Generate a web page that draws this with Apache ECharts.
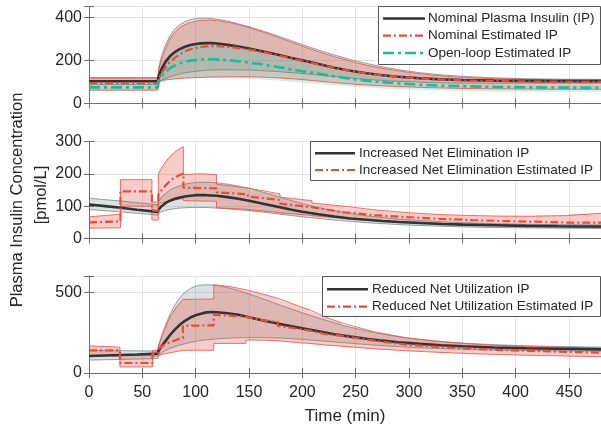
<!DOCTYPE html>
<html><head><meta charset="utf-8">
<script src="https://cdn.jsdelivr.net/npm/echarts@6/dist/echarts.min.js"></script>
<style>html,body{margin:0;padding:0;background:#fff}#c{width:601px;height:428px}</style>
</head><body><div id="c"></div>
<script>
// ---------- shared x ticks ----------
const xTicks = [0,50,100,150,200,250,300,350,400,450];

// ---------- TOP panel (nominal) ----------
const T1 = [0,30,64.5,65.5,68,72,76,80,85,90,95,100,105,110,115,120,130,140,150,160,170,180,190,200,215,230,245,260,275,290,310,330,350,380,410,440,480];
const nomIP      = [103,103,103,130,160,195,220,237,252,263,271,276,279,280,280,278,272,264,255,245,234,223,211,200,183,166,152,140,131,124,117,112,109,106,105,104,104];
const nomIPHi    = [120,120,120,170,220,275,315,343,365,380,389,394,396,396,394,391,382,370,356,341,325,308,291,273,248,225,204,186,170,157,143,133,126,119,115,113,112];
const nomIPLo    = [88,88,88,100,108,117,124,130,137,142,146,149,152,154,155,156,156,156,155,153,150,147,143,139,132,125,118,112,107,103,99,96,95,94,94,94,94];
const nomEst     = [95,95,95,115,140,170,193,210,228,242,251,258,262,265,266,266,263,257,250,241,231,220,209,198,181,165,151,140,131,124,116,111,107,104,102,101,100];
const nomEstHi   = [118,118,118,160,205,258,300,328,352,366,376,382,386,387,387,385,377,366,352,337,320,302,284,266,240,217,196,178,163,151,138,128,121,115,112,110,109];
const nomEstLo   = [62,62,62,100,106,110,112,114,116,118,119,120,121,122,123,123,124,124,124,123,121,118,115,111,104,97,91,86,82,79,75,72,70,68,67,66,66];
const olEst      = [75,75,75,105,125,148,164,175,186,194,199,202,204,205,205,204,201,196,190,183,175,167,158,150,138,126,115,106,99,93,87,83,80,77,75,74,73];
const olEstHi    = [90,90,90,140,170,205,228,243,256,264,268,270,271,271,270,268,262,254,245,235,224,213,201,190,173,157,143,131,121,113,105,99,95,91,89,88,87];
const olEstLo    = [60,60,60,90,98,104,108,111,114,116,117,118,119,119,119,119,118,117,115,112,109,105,101,97,91,85,79,74,70,66,62,60,58,56,55,54,54];

// ---------- MIDDLE panel (increased net elimination) ----------
const T2 = [0,15,30,45,60,64.5,65.5,68,72,76,80,85,90,95,100,105,110,115,120,130,140,150,160,170,180,190,200,215,230,245,260,275,290,310,330,350,380,410,440,480];
const elimIP     = [105,100,95,89,84,82,90,100,110,117,122,127,130,132,134,134,134,133,132,128,123,117,110,103,96,89,83,75,68,62,58,54,51,48,45,43,41,39,38,37];
const elimIPHi   = [125,120,116,111,106,104,115,128,140,150,157,163,168,171,173,174,174,173,172,168,162,155,146,137,127,117,108,96,86,77,70,65,60,56,52,49,46,44,43,42];
const elimIPLo   = [90,86,82,78,74,72,78,83,87,90,92,94,95,96,96,96,96,95,94,92,89,86,83,79,75,71,67,62,57,53,49,46,43,40,38,36,34,33,32,31];
const RT2 = [0,29.5,29.5,59,59,65,65,68,72,76,80,84,88.5,88.5,104,119.5,119.5,149,149,179,179,209,209,239,239,269,269,299,299,329,329,359,359,389,389,419,419,449,449,480];
const elimEst    = [50,53,146,146,88,85,135,150,165,178,188,195,201,157,156,155,143,137,130,119,108,97,92,81,80,72,72,66,66,61,60,57,57,54,55,52,52,49,48,49];
const elimEstHi  = [67,75,182,182,113,113,200,218,238,254,266,276,284,198,200,198,168,156,150,138,128,117,110,100,96,88,87,80,79,74,74,71,71,69,70,69,72,71,75,78];
const elimEstLo  = [32,33,100,100,57,57,108,110,113,116,119,121,124,117,116,115,95,90,85,80,76,71,67,62,60,55,55,51,50,47,46,43,43,41,41,39,38,36,35,33];

// ---------- BOTTOM panel (reduced net utilization) ----------
const T3 = T2;
const utilIP     = [105,108,111,114,118,120,140,165,200,235,265,298,323,343,357,367,375,377,376,370,360,345,330,315,302,289,276,258,240,225,212,200,190,180,172,165,158,153,150,146];
const utilIPHi   = [140,139,138,137,136,135,175,230,300,365,415,465,500,523,537,544,546,545,541,528,510,489,466,442,418,395,372,340,310,283,260,241,225,208,195,185,175,168,164,160];
const utilIPLo   = [80,82,84,86,88,90,110,125,140,152,162,172,181,189,196,201,205,209,211,215,218,219,219,218,216,212,208,200,192,184,176,169,163,156,151,147,142,139,137,135];
const RT3 = [0,29,29,59.5,59.5,65,65,68,72,76,80,84,88,88,117,117,132,147,147,162,177,177,192,207,207,222,237,237,267,267,297,297,327,327,357,357,387,387,417,417,447,447,480];
const utilEst    = [140,140,62,62,121,121,150,165,180,190,200,210,215,292,295,360,355,347,338,328,315,292,278,262,250,240,230,220,200,192,176,172,162,158,150,148,142,140,136,135,131,129,126];
const utilEstHi  = [168,160,110,110,141,141,165,220,290,345,390,425,455,455,458,546,535,515,510,490,462,455,425,390,380,345,310,300,255,250,218,215,195,193,180,178,170,168,163,162,158,157,155];
const utilEstLo  = [108,105,38,38,104,104,110,115,120,125,130,135,140,141,141,183,183,183,204,203,200,195,190,183,180,173,166,160,150,147,138,136,128,126,120,118,114,113,109,108,105,104,101];

// ---------- styling ----------
const C_BLACK = '#333333', C_RED = '#e74c3c', C_TEAL = '#1abc9c';
const F_GREY = 'rgba(127,140,141,0.27)', F_RED = 'rgba(231,76,60,0.28)', F_TEAL = 'rgba(26,188,156,0.22)';
const E_RED = 'rgba(240,80,65,0.9)', E_GREY = 'rgba(110,125,125,0.8)';
const DASH_RED = [8,3,2,3], DASH_TEAL = [11,4,3,4];
const AX = '#6e6e6e', FONT = 'Liberation Sans, Arial, sans-serif';

const pairs = (t, v) => t.map((x, i) => [x, v[i]]);

// Band: filled polygon between lo and hi (custom series, positioned by the axes), plus thin edge lines
function band(g, t, lo, hi, fill, edge) {
  const out = [{
    type:'custom', xAxisIndex:g, yAxisIndex:g, data:[[t[0], lo[0]]], silent:true, z:1,
    renderItem: (params, api) => {
      const up = t.map((x, i) => api.coord([x, hi[i]]));
      const dn = t.map((x, i) => api.coord([x, lo[i]])).reverse();
      return { type:'polygon', shape:{points: up.concat(dn)}, style:{fill: fill, stroke:null} };
    }
  }];
  if (edge) {
    out.push({ type:'line', xAxisIndex:g, yAxisIndex:g, data:pairs(t, lo), symbol:'none', lineStyle:{color:edge, width:0.9}, silent:true, z:2 });
    out.push({ type:'line', xAxisIndex:g, yAxisIndex:g, data:pairs(t, hi), symbol:'none', lineStyle:{color:edge, width:0.9}, silent:true, z:2 });
  }
  return out;
}
function line(g, t, v, color, width, dash, z) {
  return { type:'line', xAxisIndex:g, yAxisIndex:g, data:pairs(t, v), symbol:'none',
    lineStyle:{color, width, type:dash || 'solid'}, z:z||3, silent:true };
}

const grids = [
  {left:89, width:514, top:6.5, height:97},
  {left:89, width:514, top:141.5, height:97},
  {left:89, width:514, top:276, height:97}
];
const yCfg = [
  {max:450, interval:200, lab:200},
  {max:300, interval:100, lab:100},
  {max:600, interval:500, lab:500}
];

const xAxes = [], yAxes = [];
for (let g = 0; g < 3; g++) {
  xAxes.push({ type:'value', gridIndex:g, min:0, max:480, interval:50, position:'bottom',
    axisLine:{show:true, lineStyle:{color:AX, width:1}}, axisTick:{show:true, inside:true, length:5, lineStyle:{color:AX}},
    axisLabel:{show:g===2, color:'#262626', fontSize:16, fontFamily:FONT, margin:12, showMaxLabel:false},
    splitLine:{show:true, lineStyle:{color:'#e3e3e3', width:1}},
    name: g===2 ? 'Time (min)' : '', nameLocation:'middle', nameGap:35,
    nameTextStyle:{color:'#262626', fontSize:17, fontFamily:FONT} });
}
for (let g = 0; g < 3; g++) {
  xAxes.push({ type:'value', gridIndex:g, min:0, max:480, interval:50, position:'top',
    axisLine:{show:true, lineStyle:{color:AX, width:1}}, axisTick:{show:true, inside:true, length:5, lineStyle:{color:AX}},
    axisLabel:{show:false}, splitLine:{show:false} });
}
for (let g = 0; g < 3; g++) {
  const c = yCfg[g];
  yAxes.push({ type:'value', gridIndex:g, min:0, max:c.max, interval:c.interval, position:'left',
    axisLine:{show:true, lineStyle:{color:AX, width:1}}, axisTick:{show:true, inside:true, length:5, lineStyle:{color:AX}},
    axisLabel:{color:'#262626', fontSize:16, fontFamily:FONT, margin:7, formatter:v => (v % c.lab === 0 ? String(v) : '')},
    splitLine:{show:true, lineStyle:{color:'#e3e3e3', width:1}} });
}
for (let g = 0; g < 3; g++) {
  const c = yCfg[g];
  yAxes.push({ type:'value', gridIndex:g, min:0, max:c.max, interval:c.interval, position:'right',
    axisLine:{show:true, lineStyle:{color:AX, width:1}}, axisTick:{show:true, inside:true, length:5, lineStyle:{color:AX}},
    axisLabel:{show:false}, splitLine:{show:false} });
}

const series = [].concat(
  band(0, T1, nomIPLo, nomIPHi, F_GREY, E_GREY),
  band(0, T1, nomEstLo, nomEstHi, F_RED, E_RED),
  band(0, T1, olEstLo, olEstHi, F_TEAL, null),
  [line(0, T1, nomIP, C_BLACK, 2.6), line(0, T1, nomEst, C_RED, 2.2, DASH_RED, 4), line(0, T1, olEst, C_TEAL, 2.6, DASH_TEAL, 4)],
  band(1, T2, elimIPLo, elimIPHi, F_GREY, E_GREY),
  band(1, RT2, elimEstLo, elimEstHi, F_RED, E_RED),
  [line(1, T2, elimIP, C_BLACK, 2.6), line(1, RT2, elimEst, C_RED, 2.2, DASH_RED, 4)],
  band(2, T3, utilIPLo, utilIPHi, F_GREY, E_GREY),
  band(2, RT3, utilEstLo, utilEstHi, F_RED, E_RED),
  [line(2, T3, utilIP, C_BLACK, 2.6), line(2, RT3, utilEst, C_RED, 2.2, DASH_RED, 4)]
);

// ---------- legends (drawn as graphic boxes) ----------
function legendBox(x, y, w, h, lx1, lx2, tx, rows) {
  const els = [{ type:'rect', shape:{x, y, width:w, height:h}, style:{fill:'#fff', stroke:'#555', lineWidth:1}, z:100 }];
  rows.forEach(r => {
    els.push({ type:'line', shape:{x1:lx1, y1:r.y, x2:lx2, y2:r.y},
      style:{stroke:r.color, lineWidth:r.w, lineDash:r.dash || null}, z:101 });
    els.push({ type:'text', x:tx, y:r.y, style:{text:r.text, font:'13.5px ' + FONT, fill:'#262626', verticalAlign:'middle', align:'left'}, z:101 });
  });
  return els;
}
const graphic = [].concat(
  legendBox(378.5, 6.5, 222, 58, 383, 425, 428, [
    {y:18.5, text:'Nominal Plasma Insulin (IP)', color:C_BLACK, w:2.6},
    {y:35.7, text:'Nominal Estimated IP', color:C_RED, w:2.2, dash:DASH_RED},
    {y:53, text:'Open-loop Estimated IP', color:C_TEAL, w:2.6, dash:DASH_TEAL}
  ]),
  legendBox(310.5, 141.5, 290, 39, 315, 355, 359, [
    {y:153.3, text:'Increased Net Elimination IP', color:C_BLACK, w:2.6},
    {y:170, text:'Increased Net Elimination Estimated IP', color:C_RED, w:2.2, dash:DASH_RED}
  ]),
  legendBox(322.5, 276.5, 278, 40, 327, 368, 372, [
    {y:289.3, text:'Reduced Net Utilization IP', color:C_BLACK, w:2.6},
    {y:306.7, text:'Reduced Net Utilization Estimated IP', color:C_RED, w:2.2, dash:DASH_RED}
  ]),
  [
    { type:'text', x:17, y:200, rotation:Math.PI/2, style:{text:'Plasma Insulin Concentration', font:'16.5px ' + FONT, fill:'#262626', align:'center', verticalAlign:'middle'} },
    { type:'text', x:41, y:195, rotation:Math.PI/2, style:{text:'[pmol/L]', font:'16.5px ' + FONT, fill:'#262626', align:'center', verticalAlign:'middle'} }
  ]
);

const chart = echarts.init(document.getElementById('c'), null, {renderer:'canvas'});
chart.setOption({
  animation:false,
  backgroundColor:'#fff',
  grid:grids,
  xAxis:xAxes,
  yAxis:yAxes,
  series,
  graphic
});
</script></body></html>
